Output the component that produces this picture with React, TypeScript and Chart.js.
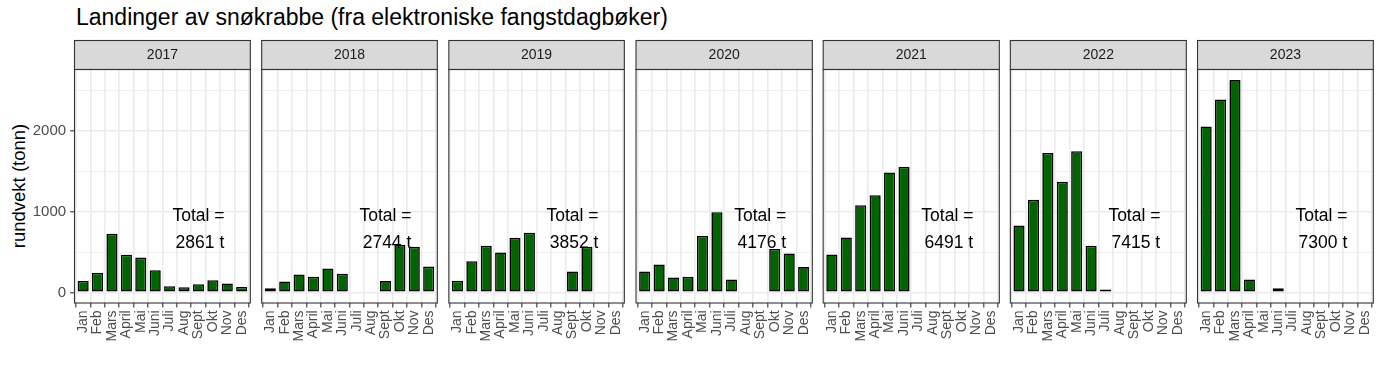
import React, { useEffect, useRef } from 'react';
import { Chart, registerables } from 'chart.js';

Chart.register(...registerables);

// ---------- data ----------
const MONTHS = ['Jan', 'Feb', 'Mars', 'April', 'Mai', 'Juni', 'Juli', 'Aug', 'Sept', 'Okt', 'Nov', 'Des'];
const YEARS = ['2017', '2018', '2019', '2020', '2021', '2022', '2023'];

const V2017 = [142, 245, 728, 468, 432, 276, 76, 64, 101, 152, 110, 68];
const V2018 = [50, 136, 222, 194, 298, 232, null, null, 140, 590, 565, 320];
const V2019 = [145, 388, 579, 496, 678, 740, null, null, 260, 568, null, null];
const V2020 = [260, 347, 186, 194, 700, 995, 161, null, null, 540, 483, 314];
const V2021 = [471, 682, 1083, 1207, 1488, 1560, null, null, null, null, null, null];
const V2022 = [831, 1149, 1730, 1372, 1752, 579, 3, null, null, null, null, null];
const V2023 = [2060, 2395, 2635, 160, null, 50, null, null, null, null, null, null];

const SERIES = [V2017, V2018, V2019, V2020, V2021, V2022, V2023];
const TOTALS = ['2861 t', '2744 t', '3852 t', '4176 t', '6491 t', '7415 t', '7300 t'];

const Y_MAJOR = [0, 1000, 2000];
const Y_MINOR = [500, 1500, 2500];

const TITLE = 'Landinger av snøkrabbe (fra elektroniske fangstdagbøker)';
const Y_TITLE = 'rundvekt (tonn)';
const LABEL_LINE1 = 'Total =';
const LABEL_X = 9;
const LABEL_Y1 = 888;
const LABEL_Y2 = 550;

// ---------- layout ----------
const W = 1385;
const H = 378;
const PANEL_LEFT0 = 74.5;
const PANEL_STEP = 187.17;
const PANEL_W = 177;
const STRIP_TOP = 40.5;
const PANEL_TOP = 69.5;
const PANEL_BOTTOM = 303;
const FONT = "'Liberation Sans', Arial, Helvetica, sans-serif";

const allVals = SERIES.flat().filter((v) => v != null) as number[];
const DATA_MAX = Math.max(...allVals);
const Y_MIN = -0.05 * DATA_MAX;
const Y_MAX = 1.05 * DATA_MAX;

function panelGeom(i: number) {
  const panelLeft = PANEL_LEFT0 + i * PANEL_STEP;
  const canvasLeft = i === 0 ? 0 : Math.floor(panelLeft) - 10;
  const yW = panelLeft - canvasLeft;
  const canvasRight = Math.ceil(panelLeft + PANEL_W) + 10;
  const canvasWidth = canvasRight - canvasLeft;
  const padRight = canvasWidth - yW - PANEL_W;
  return { canvasLeft, canvasWidth, yW, padRight };
}

function makePlugin(year: string, total: string) {
  return {
    id: 'facet' + year,
    afterDatasetsDraw(chart: any) {
      const ctx = chart.ctx;
      const xs = chart.scales.x;
      const ys = chart.scales.y;
      ctx.save();
      ctx.fillStyle = '#000000';
      ctx.font = `17.5px ${FONT}`;
      ctx.textAlign = 'center';
      ctx.textBaseline = 'alphabetic';
      const px = xs.getPixelForValue(LABEL_X);
      ctx.fillText(LABEL_LINE1, px, ys.getPixelForValue(LABEL_Y1));
      ctx.fillText(total, px + 1.5, ys.getPixelForValue(LABEL_Y2));
      ctx.restore();
    },
    afterDraw(chart: any) {
      const ctx = chart.ctx;
      const a = chart.chartArea;
      ctx.save();
      // strip
      ctx.fillStyle = '#D9D9D9';
      ctx.fillRect(a.left, STRIP_TOP, a.right - a.left, a.top - STRIP_TOP);
      ctx.strokeStyle = '#333333';
      ctx.lineWidth = 1.1;
      ctx.strokeRect(a.left, STRIP_TOP, a.right - a.left, a.top - STRIP_TOP);
      ctx.fillStyle = '#1A1A1A';
      ctx.font = `14px ${FONT}`;
      ctx.textAlign = 'center';
      ctx.textBaseline = 'middle';
      ctx.fillText(year, (a.left + a.right) / 2, (STRIP_TOP + a.top) / 2 + 0.5);
      // panel frame
      ctx.strokeStyle = '#333333';
      ctx.lineWidth = 1.1;
      ctx.strokeRect(a.left, a.top, a.right - a.left, a.bottom - a.top);
      ctx.restore();
    },
  };
}

export default function App() {
  const refs = useRef<(HTMLCanvasElement | null)[]>([]);

  useEffect(() => {
    document.body.style.margin = '0';
    const charts: Chart[] = [];
    YEARS.forEach((year, i) => {
      const canvas = refs.current[i];
      if (!canvas) return;
      const g = panelGeom(i);
      const first = i === 0;
      const data = SERIES[i].map((v, k) => ({ x: k + 1, y: v }));
      const chart = new Chart(canvas, {
        type: 'bar',
        data: {
          datasets: [
            {
              data: data as any,
              backgroundColor: '#006400',
              borderColor: '#000000',
              borderWidth: 1.6,
              borderSkipped: false,
              minBarLength: 3,
              barPercentage: 0.77,
              categoryPercentage: 1,
            },
          ],
        },
        options: {
          responsive: false,
          animation: false,
          devicePixelRatio: 1,
          layout: { padding: { left: 0, right: g.padRight, top: PANEL_TOP, bottom: 0 } },
          plugins: { legend: { display: false }, tooltip: { enabled: false }, title: { display: false } },
          scales: {
            x: {
              type: 'linear',
              min: 0.4,
              max: 12.6,
              offset: false,
              afterBuildTicks: (axis: any) => {
                axis.ticks = MONTHS.map((_, k) => ({ value: k + 1 }));
              },
              afterFit: (axis: any) => {
                axis.height = H - PANEL_BOTTOM;
              },
              border: { display: false },
              grid: {
                color: '#EBEBEB',
                lineWidth: 1.6,
                drawTicks: true,
                tickLength: 4.4,
                tickColor: '#333333',
                tickWidth: 1.1,
              },
              ticks: {
                autoSkip: false,
                minRotation: 90,
                maxRotation: 90,
                padding: 3,
                color: '#4D4D4D',
                font: { family: FONT, size: 14 },
                callback: (v: any) => MONTHS[Math.round(Number(v)) - 1] ?? '',
              },
            },
            y: {
              type: 'linear',
              min: Y_MIN,
              max: Y_MAX,
              afterBuildTicks: (axis: any) => {
                axis.ticks = [...Y_MAJOR, ...Y_MINOR].sort((a, b) => a - b).map((v) => ({ value: v }));
              },
              afterFit: (axis: any) => {
                axis.width = g.yW;
              },
              border: { display: false },
              grid: {
                color: '#EBEBEB',
                lineWidth: (c: any) => (Y_MAJOR.includes(c.tick?.value) ? 1.6 : 0.8),
                drawTicks: first,
                tickLength: 4.4,
                tickColor: (c: any) => (Y_MAJOR.includes(c.tick?.value) ? '#333333' : 'rgba(0,0,0,0)'),
                tickWidth: 1.1,
              },
              ticks: {
                display: first,
                autoSkip: false,
                padding: 4,
                color: '#4D4D4D',
                font: { family: FONT, size: 15 },
                callback: (v: any) => (Y_MAJOR.includes(Number(v)) ? String(v) : ''),
              },
            },
          },
        },
        plugins: [makePlugin(year, TOTALS[i]) as any],
      });
      charts.push(chart);
    });
    return () => charts.forEach((c) => c.destroy());
  }, []);

  return (
    <div style={{ position: 'fixed', left: 0, top: 0, width: W, height: H, background: '#FFFFFF', overflow: 'hidden' }}>
      <div
        style={{
          position: 'absolute',
          left: 76,
          top: 6.2,
          fontFamily: FONT,
          fontSize: 23,
          lineHeight: '23px',
          whiteSpace: 'nowrap',
          color: '#000000',
        }}
      >
        {TITLE}
      </div>
      <div
        style={{
          position: 'absolute',
          left: 19,
          top: (PANEL_TOP + PANEL_BOTTOM) / 2,
          transform: 'translate(-50%, -50%) rotate(-90deg)',
          fontFamily: FONT,
          fontSize: 18.5,
          lineHeight: '18.5px',
          whiteSpace: 'nowrap',
          color: '#000000',
        }}
      >
        {Y_TITLE}
      </div>
      {YEARS.map((y, i) => {
        const g = panelGeom(i);
        return (
          <canvas
            key={y}
            ref={(el) => {
              refs.current[i] = el;
            }}
            width={g.canvasWidth}
            height={H}
            style={{ position: 'absolute', left: g.canvasLeft, top: 0, width: g.canvasWidth, height: H }}
          />
        );
      })}
    </div>
  );
}
